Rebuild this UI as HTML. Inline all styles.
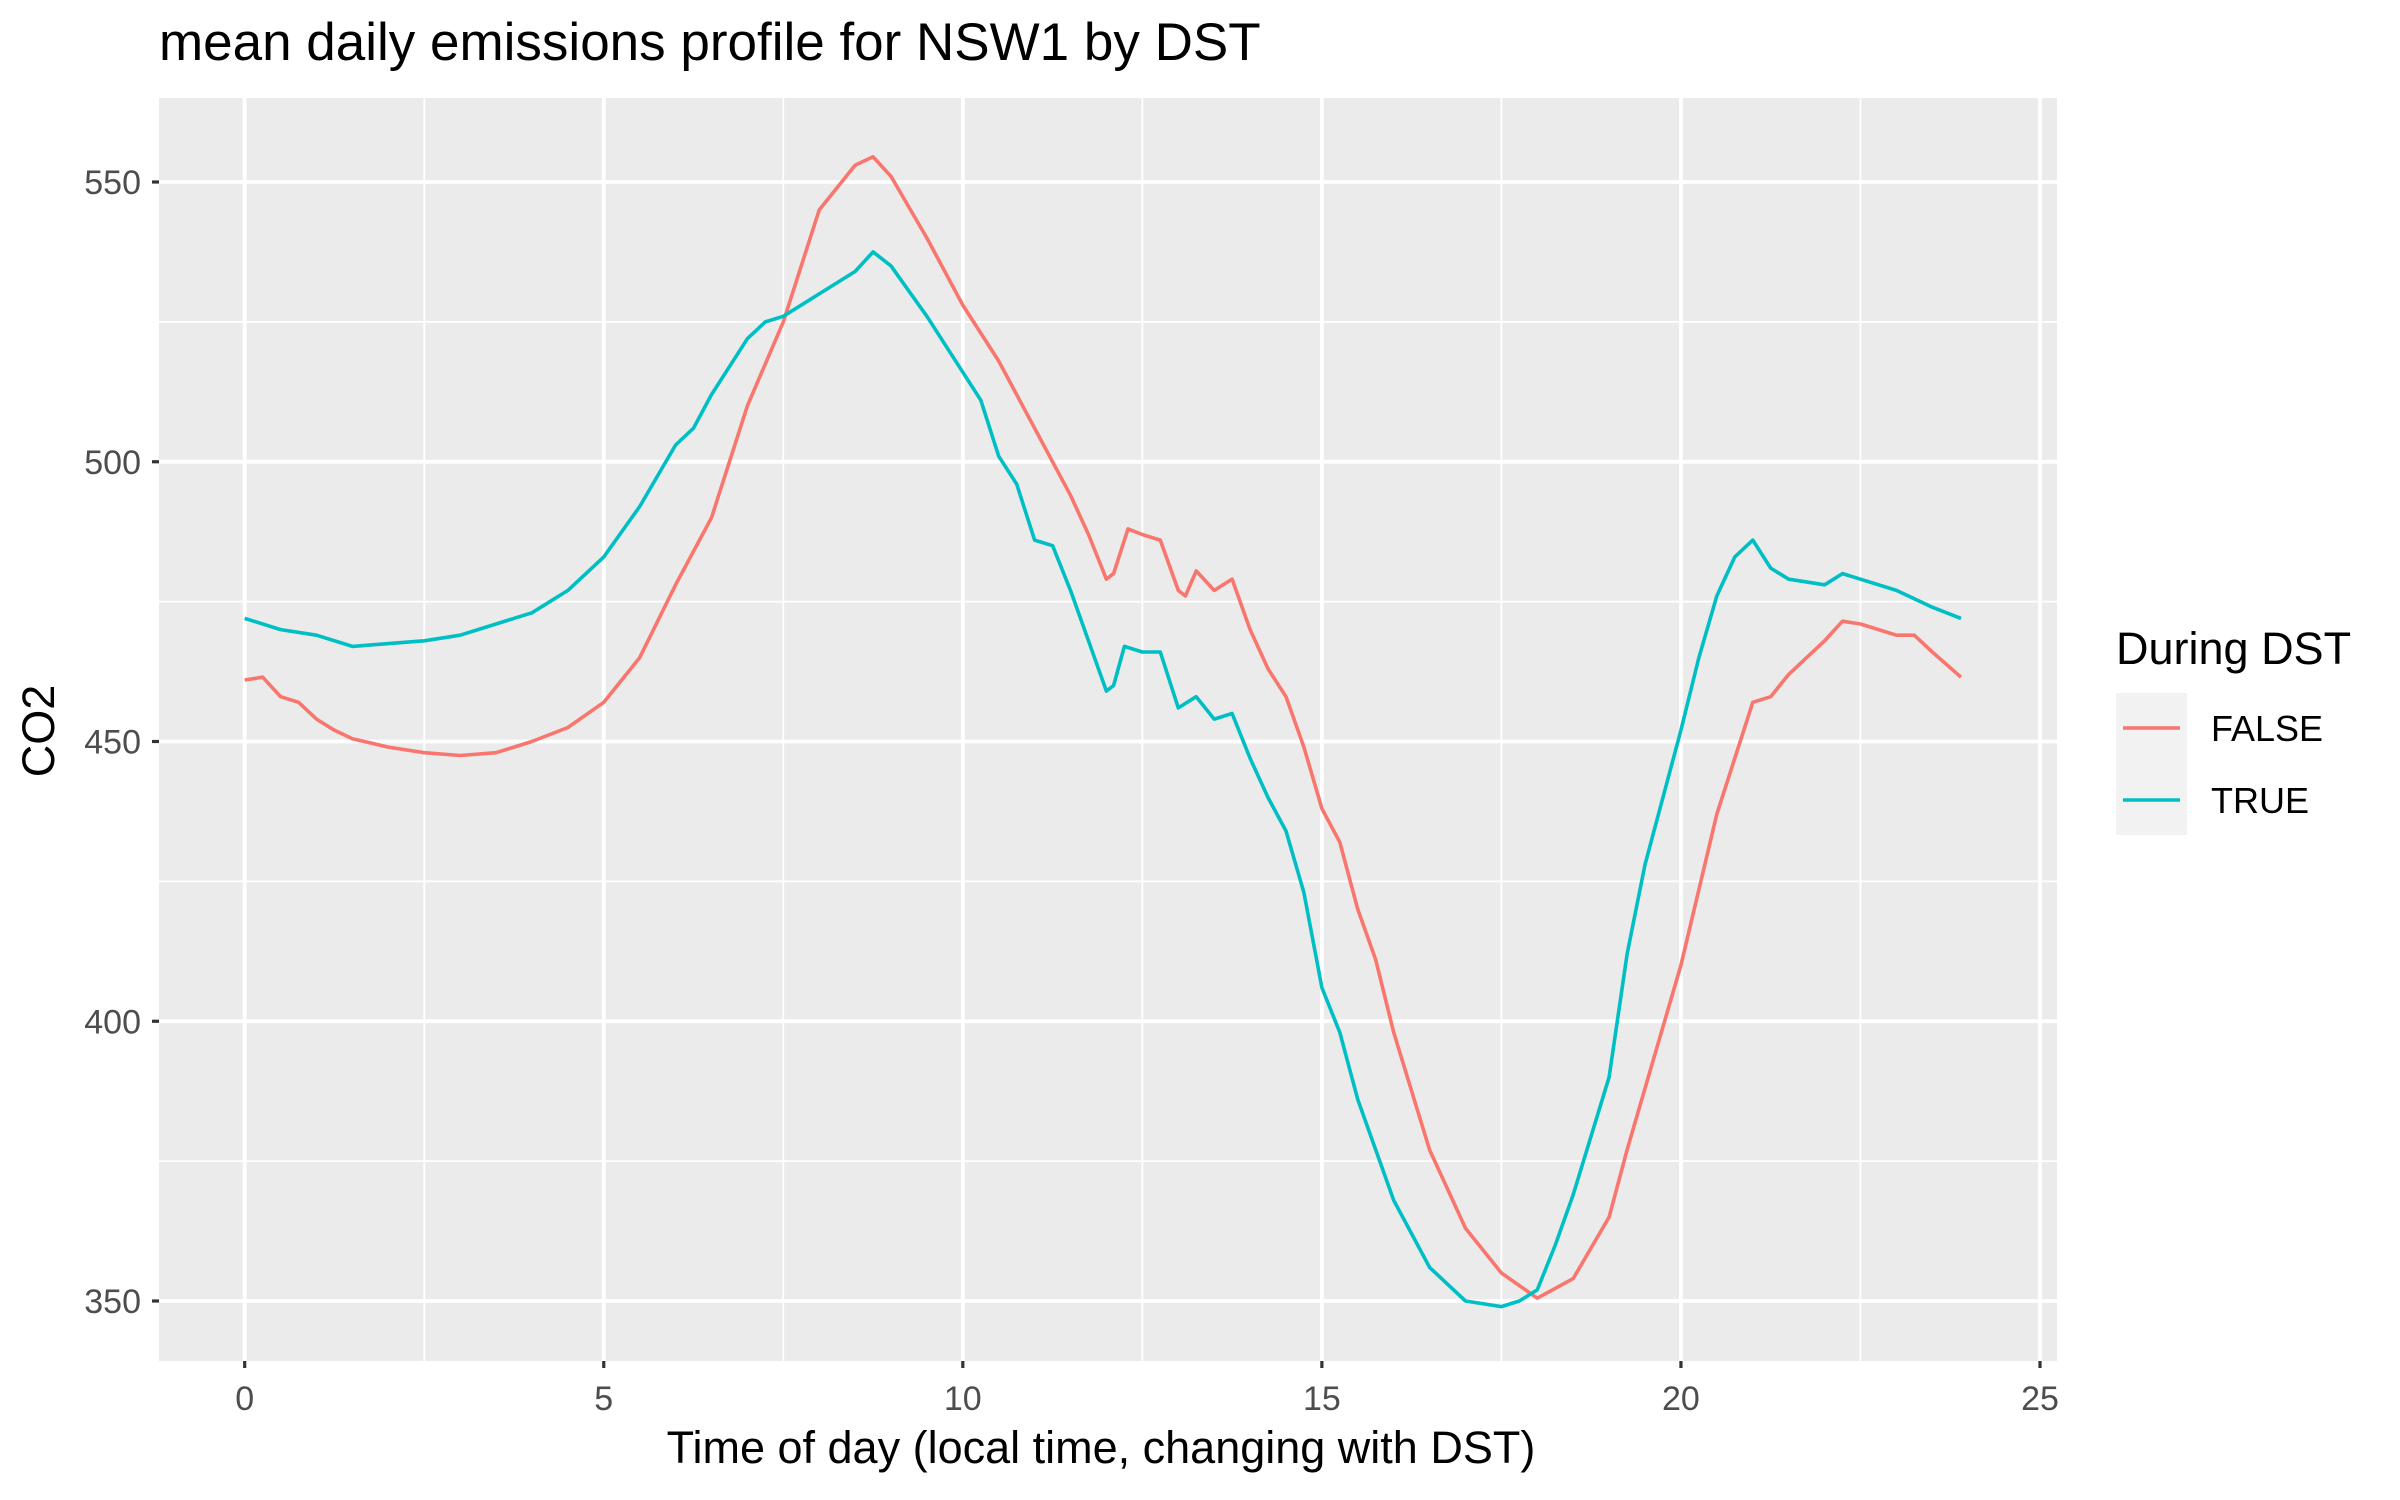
<!DOCTYPE html>
<html><head><meta charset="utf-8"><style>
body{margin:0;background:#fff}
svg{display:block;font-family:"Liberation Sans",sans-serif}
</style></head><body>
<svg id="chart" width="2400" height="1500" viewBox="0 0 2400 1500">
<rect x="0" y="0" width="2400" height="1500" fill="#fff"/>
<text x="159" y="60" font-size="53" fill="#000">mean daily emissions profile for NSW1 by DST</text>
<rect x="159" y="98" width="1898" height="1263" fill="#ebebeb"/>
<g id="grid"></g>
<g id="series"></g>
<g id="axes"></g>
<text transform="translate(54,731) rotate(-90)" text-anchor="middle" font-size="45" fill="#000">CO2</text>
<text x="1101" y="1463" text-anchor="middle" font-size="45" fill="#000">Time of day (local time, changing with DST)</text>
<g>
<text x="2116" y="664" font-size="45" fill="#000">During DST</text>
<rect x="2116" y="693" width="71" height="142" fill="#f2f2f2"/>
<line x1="2123" y1="728" x2="2180" y2="728" stroke="#F8766D" stroke-width="3.5"/>
<line x1="2123" y1="800" x2="2180" y2="800" stroke="#00BFC4" stroke-width="3.5"/>
<text x="2211" y="741" font-size="36" fill="#000">FALSE</text>
<text x="2211" y="813" font-size="36" fill="#000">TRUE</text>
</g>
</svg>
<script>
const xTicks=[0,5,10,15,20,25];
const yTicks=[350,400,450,500,550];
const xMinor=[2.5,7.5,12.5,17.5,22.5];
const yMinor=[375,425,475,525];
const falseHours=[0,0.25,0.5,0.75,1,1.25,1.5,2,2.5,3,3.5,4,4.5,5,5.5,6,6.5,7,7.5,8,8.5,8.75,9,9.5,10,10.5,11,11.5,11.75,12,12.1,12.3,12.5,12.75,13,13.1,13.25,13.5,13.75,14,14.25,14.5,14.75,15,15.25,15.5,15.75,16,16.5,17,17.5,18,18.5,19,19.25,19.5,20,20.5,21,21.25,21.5,22,22.25,22.5,23,23.25,23.5,23.9];
const falseValues=[461,461.5,458,457,454,452,450.5,449,448,447.5,448,450,452.5,457,465,478,490,510,525,545,553,554.5,551,540,528,518,506,494,487,479,480,488,487,486,477,476,480.5,477,479,470,463,458,449,438,432,420,411,398,377,363,355,350.5,354,365,377,388,410,437,457,458,462,468,471.5,471,469,469,466,461.5];
const trueHours=[0,0.5,1,1.5,2,2.5,3,3.5,4,4.5,5,5.5,6,6.25,6.5,7,7.25,7.5,8,8.5,8.75,9,9.5,10,10.25,10.5,10.75,11,11.25,11.5,11.75,12,12.1,12.25,12.5,12.75,13,13.25,13.5,13.75,14,14.25,14.5,14.75,15,15.25,15.5,16,16.5,17,17.5,17.75,18,18.25,18.5,19,19.25,19.5,20,20.25,20.5,20.75,21,21.25,21.5,22,22.25,22.5,23,23.5,23.9];
const trueValues=[472,470,469,467,467.5,468,469,471,473,477,483,492,503,506,512,522,525,526,530,534,537.5,535,526,516,511,501,496,486,485,477,468,459,460,467,466,466,456,458,454,455,447,440,434,423,406,398,386,368,356,350,349,350,352,360,369,390,412,428,452,465,476,483,486,481,479,478,480,479,477,474,472];

const NS="http://www.w3.org/2000/svg";
const X=v=>244.7+(v-0)*(2040-244.7)/25;
const Y=v=>1301+(v-350)*(182-1301)/200;
function mk(tag,attrs,parent){const e=document.createElementNS(NS,tag);for(const k in attrs)e.setAttribute(k,attrs[k]);parent.appendChild(e);return e;}
const grid=document.getElementById('grid'),axes=document.getElementById('axes'),series=document.getElementById('series');
xMinor.forEach(t=>{const l=mk('line',{x1:X(t),x2:X(t),y1:98,y2:1361,stroke:'#fff','stroke-width':1.8},grid);

});
yMinor.forEach(t=>{const l=mk('line',{x1:159,x2:2057,y1:Y(t),y2:Y(t),stroke:'#fff','stroke-width':1.8},grid);

});
xTicks.forEach(t=>{const l=mk('line',{x1:X(t),x2:X(t),y1:98,y2:1361,stroke:'#fff','stroke-width':3.8},grid);


const tk=mk('line',{x1:X(t),x2:X(t),y1:1361,y2:1368,stroke:'#333','stroke-width':3.2},axes);


const tx=mk('text',{x:X(t),y:1410,'text-anchor':'middle','font-size':34,fill:'#4d4d4d'},axes);tx.textContent=t;

});
yTicks.forEach(t=>{const l=mk('line',{x1:159,x2:2057,y1:Y(t),y2:Y(t),stroke:'#fff','stroke-width':3.8},grid);


const tk=mk('line',{x1:152,x2:159,y1:Y(t),y2:Y(t),stroke:'#333','stroke-width':3.2},axes);


const tx=mk('text',{x:141,y:Y(t)+12,'text-anchor':'end','font-size':34,fill:'#4d4d4d'},axes);tx.textContent=t;

});
function pathFor(xs,ys){return xs.map((h,i)=>(i?'L':'M')+X(h).toFixed(1)+','+Y(ys[i]).toFixed(1)).join(' ');}
const pf=mk('path',{d:pathFor(falseHours,falseValues),fill:'none',stroke:'#F8766D','stroke-width':3.6,'stroke-linejoin':'round'},series);


const pt=mk('path',{d:pathFor(trueHours,trueValues),fill:'none',stroke:'#00BFC4','stroke-width':3.6,'stroke-linejoin':'round'},series);


</script>
</body></html>
